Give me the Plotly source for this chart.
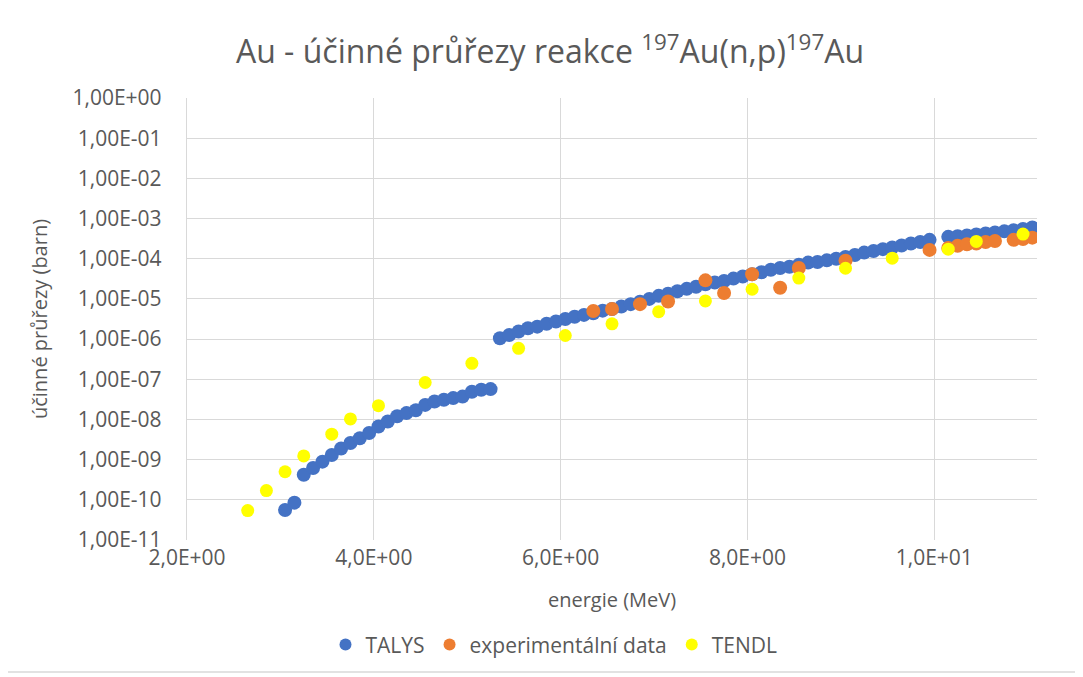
import plotly.graph_objects as go

# ---- data ----
talys_e = [3.05, 3.15, 3.25, 3.35, 3.45, 3.55, 3.65, 3.75, 3.85, 3.95, 4.05, 4.15, 4.25, 4.35,
           4.45, 4.55, 4.65, 4.75, 4.85, 4.95, 5.05, 5.15, 5.25,
           5.35, 5.45, 5.55, 5.65, 5.75, 5.85, 5.95, 6.05, 6.15, 6.25, 6.35, 6.45, 6.55, 6.65,
           6.75, 6.85, 6.95, 7.05, 7.15, 7.25, 7.35, 7.45, 7.55, 7.65, 7.75, 7.85, 7.95, 8.05,
           8.15, 8.25, 8.35, 8.45, 8.55, 8.65, 8.75, 8.85, 8.95, 9.05, 9.15, 9.25, 9.35, 9.45,
           9.55, 9.65, 9.75, 9.85, 9.95,
           10.15, 10.25, 10.35, 10.45, 10.55, 10.65, 10.75, 10.85, 10.95, 11.05]
talys_xs = [5.6e-11, 8.5e-11, 4.2e-10, 6.2e-10, 8.9e-10, 1.3e-9, 1.9e-9, 2.6e-9, 3.4e-9, 4.6e-9,
            6.7e-9, 8.9e-9, 1.2e-8, 1.44e-8, 1.7e-8, 2.3e-8, 2.8e-8, 3.1e-8, 3.4e-8, 3.7e-8,
            4.9e-8, 5.5e-8, 5.7e-8,
            1.05e-6, 1.26e-6, 1.55e-6, 1.86e-6, 2.04e-6, 2.4e-6, 2.75e-6, 3.16e-6, 3.6e-6, 4.0e-6,
            4.4e-6, 5.1e-6, 5.6e-6, 6.5e-6, 7.4e-6, 8.5e-6, 1.0e-5, 1.19e-5, 1.35e-5, 1.55e-5,
            1.78e-5, 2.0e-5, 2.3e-5, 2.55e-5, 2.8e-5, 3.2e-5, 3.6e-5, 4.1e-5, 4.6e-5, 5.3e-5,
            5.9e-5, 6.3e-5, 7.1e-5, 8.0e-5, 8.3e-5, 9.1e-5, 1.0e-4, 1.1e-4, 1.24e-4, 1.42e-4,
            1.56e-4, 1.73e-4, 1.9e-4, 2.14e-4, 2.4e-4, 2.6e-4, 2.95e-4,
            3.5e-4, 3.65e-4, 3.8e-4, 4.0e-4, 4.25e-4, 4.5e-4, 4.8e-4, 5.1e-4, 5.5e-4, 6.0e-4]

exp_e = [6.35, 6.55, 6.85, 7.15, 7.55, 7.75, 8.05, 8.35, 8.55, 9.05, 9.95,
         10.15, 10.25, 10.35, 10.45, 10.55, 10.65, 10.85, 10.95, 11.05]
exp_xs = [5.0e-6, 5.6e-6, 7.4e-6, 8.6e-6, 2.9e-5, 1.4e-5, 4.1e-5, 1.9e-5, 5.9e-5, 8.9e-5, 1.66e-4,
          1.86e-4, 2.09e-4, 2.3e-4, 2.4e-4, 2.6e-4, 2.75e-4, 2.95e-4, 3.1e-4, 3.35e-4]

tendl_e = [2.65, 2.85, 3.05, 3.25, 3.55, 3.75, 4.05, 4.55, 5.05, 5.55, 6.05, 6.55, 7.05, 7.55,
           8.05, 8.55, 9.05, 9.55, 10.15, 10.45, 10.95]
tendl_xs = [5.4e-11, 1.7e-10, 5.0e-10, 1.24e-9, 4.3e-9, 1.03e-8, 2.2e-8, 8.3e-8, 2.5e-7, 5.9e-7,
            1.23e-6, 2.4e-6, 4.8e-6, 8.9e-6, 1.74e-5, 3.3e-5, 5.8e-5, 1.03e-4, 1.73e-4, 2.7e-4,
            4.1e-4]

y_tickvals = [1e-11, 1e-10, 1e-9, 1e-8, 1e-7, 1e-6, 1e-5, 1e-4, 1e-3, 1e-2, 1e-1, 1e0]
y_ticktext = ["1,00E-11", "1,00E-10", "1,00E-09", "1,00E-08", "1,00E-07", "1,00E-06",
              "1,00E-05", "1,00E-04", "1,00E-03", "1,00E-02", "1,00E-01", "1,00E+00"]
x_tickvals = [2, 4, 6, 8, 10]
x_ticktext = ["2,0E+00", "4,0E+00", "6,0E+00", "8,0E+00", "1,0E+01"]

FONT = "Open Sans"
GREY = "#595959"
GRID = "#D9D9D9"

fig = go.Figure()
fig.add_trace(go.Scatter(x=talys_e, y=talys_xs, mode="markers", name="TALYS",
                         marker=dict(color="#4472C4", size=14, line=dict(width=0))))
fig.add_trace(go.Scatter(x=exp_e, y=exp_xs, mode="markers", name="experimentální data",
                         marker=dict(color="#ED7D31", size=14, line=dict(width=0))))
fig.add_trace(go.Scatter(x=tendl_e, y=tendl_xs, mode="markers", name="TENDL",
                         marker=dict(color="#FFFF00", size=13, line=dict(width=0))))

# page has an 8px body margin; plot area spans page x 187..1037, y 98..540
fig.update_layout(
    width=1075, height=669,
    margin=dict(l=179, r=46, t=90, b=137),
    paper_bgcolor="white", plot_bgcolor="white",
    font=dict(family=FONT, color=GREY, size=21),
    title=dict(text="Au - účinné průřezy reakce <sup>197</sup>Au(n,p)<sup>197</sup>Au",
               x=(550 - 187) / 850, xref="paper", xanchor="center",
               y=1 - 44 / 669, yanchor="middle",
               font=dict(family=FONT, size=32, color=GREY)),
    showlegend=True,
    legend=dict(orientation="h", x=(554 - 187) / 850, xanchor="center",
                y=-0.237, yanchor="middle",
                font=dict(family=FONT, size=21, color=GREY), itemsizing="constant",
                bgcolor="rgba(0,0,0,0)"),
    xaxis=dict(range=[2, 11.1], tickvals=x_tickvals, ticktext=x_ticktext,
               showgrid=True, gridcolor=GRID, gridwidth=1.3, zeroline=False,
               showline=False, ticks="", ticklabelstandoff=3,
               tickfont=dict(size=21, color=GREY),
               title=dict(text="energie (MeV)", font=dict(size=20, color=GREY), standoff=22)),
    yaxis=dict(type="log", range=[-11, 0], tickvals=y_tickvals, ticktext=y_ticktext,
               showgrid=True, gridcolor=GRID, gridwidth=1.3, zeroline=False,
               showline=True, linecolor=GRID, linewidth=1.3, ticks="",
               ticklabelstandoff=20, tickfont=dict(size=21, color=GREY),
               title=dict(text="účinné průřezy (barn)", font=dict(size=20, color=GREY), standoff=19)),
    shapes=[dict(type="rect", xref="paper", yref="paper",
                 x0=(7 - 187) / 850, x1=(1076 - 187) / 850,
                 y0=(540 - 672) / 442, y1=(540 - 4) / 442,
                 line=dict(color=GRID, width=1.3), fillcolor="rgba(0,0,0,0)", layer="below")],
)

fig.write_html("out.html")
